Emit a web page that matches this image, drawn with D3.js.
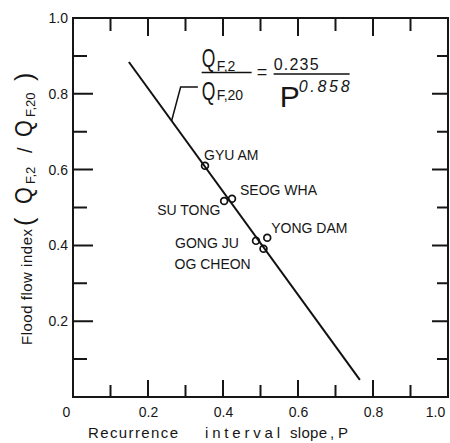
<!DOCTYPE html>
<html>
<head>
<meta charset="utf-8">
<title>Flood flow index vs recurrence interval slope</title>
<script src="https://cdn.jsdelivr.net/npm/d3@7"></script>
<style>
    body{ margin:0; background:#fff; }
    svg{ display:block; }
    text{ font-family:"Liberation Sans", Arial, sans-serif; fill:#161616; }
    .tick text{ font-size:14px; }
    .frame{ fill:none; stroke:#161616; stroke-width:2px; }
    .fit{ fill:none; stroke:#111; stroke-width:2px; }
    .pt{ fill:none; stroke:#111; stroke-width:1.7px; }
    .stn{ font-size:14px; }
</style>
</head>
<body>
<svg id="chart" width="450" height="443"></svg>

<script>
    // stations
    const stations   = ["GYU AM", "SU TONG", "SEOG WHA", "GONG JU", "YONG DAM", "OG CHEON"];
    const slopeP     = [0.352, 0.403, 0.424, 0.488, 0.518, 0.508];
    const floodIndex = [0.610, 0.517, 0.523, 0.412, 0.420, 0.391];

    // straight fitted line, end points
    const fitP     = [0.149, 0.765];
    const fitIndex = [0.884, 0.045];

    const majorTicks  = [0, 0.2, 0.4, 0.6, 0.8, 1.0];
    const minorTicks  = [0.1, 0.3, 0.5, 0.7, 0.9];
    const xTickLabels = ["0", "0.2", "0.4", "0.6", "0.8", "1.0"];
    const yTickLabels = ["", "0.2", "0.4", "0.6", "0.8", "1.0"];

    const W = 450, H = 443;
    const margin = {top: 18, right: 2, bottom: 46, left: 73};
    const svg = d3.select("#chart");

    const x = d3.scaleLinear().domain([0, 1]).range([margin.left, W - margin.right]);
    const y = d3.scaleLinear().domain([0, 1]).range([H - margin.bottom, margin.top]);

    // ***************************************
    //        axis labels
    // ***************************************
    const xAx = svg.append("g").attr("transform", `translate(0,${y(0)})`)
        .call(d3.axisBottom(x).tickValues(majorTicks).tickSize(0).tickPadding(10)
            .tickFormat((d, i) => xTickLabels[i]));
    xAx.select(".domain").remove();
    // corner labels sit a bit inside
    xAx.selectAll(".tick text").attr("dx", (d) => d === 0 ? -7 : d === 1 ? -13 : 0);

    const yAx = svg.append("g").attr("transform", `translate(${x(0)},0)`)
        .call(d3.axisLeft(y).tickValues(majorTicks).tickSize(0).tickPadding(5)
            .tickFormat((d, i) => yTickLabels[i]));
    yAx.select(".domain").remove();

    svg.append("rect").attr("class", "frame")
        .attr("x", x(0)).attr("y", y(1))
        .attr("width", x(1) - x(0)).attr("height", y(0) - y(1));

    // ***************************************
    //        fitted line + stations
    // ***************************************
    const fitData = fitP.map((p, i) => ({p: p, v: fitIndex[i]}));
    svg.append("path").datum(fitData).attr("class", "fit")
        .attr("d", d3.line().x(d => x(d.p)).y(d => y(d.v)));

    const pts = stations.map((s, i) => ({name: s, p: slopeP[i], v: floodIndex[i]}));
    // label offsets from the point (px)
    const labelOff = {
        "GYU AM":   [-1, -6],
        "SU TONG":  [-67, 14],
        "SEOG WHA": [8, -4],
        "GONG JU":  [-81, 7],
        "YONG DAM": [4, -5],
        "OG CHEON": [-89, 20]
    };
    svg.selectAll("circle.pt").data(pts).join("circle").attr("class", "pt")
        .attr("cx", d => x(d.p)).attr("cy", d => y(d.v)).attr("r", 3.4);
    svg.selectAll("text.stn").data(pts).join("text").attr("class", "stn")
        .attr("x", d => x(d.p) + labelOff[d.name][0])
        .attr("y", d => y(d.v) + labelOff[d.name][1])
        .text(d => d.name);

    // ***************************************
    //        equation with leader
    // ***************************************
    const fitAt = d3.scaleLinear().domain(fitP).range(fitIndex);
    const leader = [[0.263, fitAt(0.263)], [0.287, 0.818], [0.333, 0.818]];
    svg.append("path").attr("fill", "none").attr("stroke", "#111").attr("stroke-width", 1.5)
        .attr("d", d3.line().x(d => x(d[0])).y(d => y(d[1]))(leader));

    const eq = svg.append("g").attr("transform", `translate(${x(0.343)},${y(0.856)})`);
    // squeezed Q like the drawn one
    const bigQ = (sel, px, py, size, sx) => sel.append("text")
        .attr("transform", `translate(${px},${py}) scale(${sx},1)`)
        .style("font-size", size + "px").text("Q");

    eq.append("line").attr("x1", 0).attr("x2", 50).attr("y1", 0).attr("y2", 0)
        .attr("stroke", "#111").attr("stroke-width", 1.5);
    bigQ(eq, 0, -6, 25, 0.7);
    eq.append("text").attr("x", 15).attr("y", -2).style("font-size", "14px").text("F,2");
    bigQ(eq, 0, 27, 25, 0.7);
    eq.append("text").attr("x", 15).attr("y", 27).style("font-size", "14px").text("F,20");
    eq.append("text").attr("x", 55).attr("y", 5).style("font-size", "18px").text("=");
    eq.append("text").attr("x", 72).attr("y", -3).style("font-size", "16px")
        .attr("textLength", 45).text("0.235");
    eq.append("line").attr("x1", 72).attr("x2", 148).attr("y1", 1.5).attr("y2", 1.5)
        .attr("stroke", "#111").attr("stroke-width", 1.5);
    eq.append("text").attr("x", 78).attr("y", 34).style("font-size", "30px").text("P");
    eq.append("text").attr("x", 97).attr("y", 19).style("font-size", "16px")
        .style("font-style", "italic").attr("textLength", 51).text("0.858");

    // ***************************************
    //        axis titles
    // ***************************************
    const xt = svg.append("g").attr("transform", `translate(0,438)`).style("font-size", "15px");
    [["Recurrence", 88, 90], ["interval", 205, 75], ["slope", 290, 37], [",", 330, 4], ["P", 338, 9]]
        .forEach(([t, px, w]) => {
            xt.append("text").attr("x", px).attr("y", 0).attr("textLength", w).text(t);
        });

    const yt = svg.append("g").attr("transform", "translate(32,0) rotate(-90)");
    yt.append("text").attr("x", -345).attr("y", 0).style("font-size", "15px")
        .attr("textLength", 116).text("Flood  flow  index");
    yt.append("text").attr("x", -226).attr("y", 1).style("font-size", "25px").text("(");
    bigQ(yt, -204, 0, 24, 0.9);
    yt.append("text").attr("x", -184).attr("y", 3).style("font-size", "13px").text("F,2");
    yt.append("text").attr("x", -153).attr("y", 0).style("font-size", "20px").text("/");
    bigQ(yt, -137, 0, 24, 0.9);
    yt.append("text").attr("x", -117).attr("y", 3).style("font-size", "13px").text("F,20");
    yt.append("text").attr("x", -81).attr("y", 1).style("font-size", "25px").text(")");

    // ***************************************
    //        tick marks, all pointing inward (drawn last, one path per set)
    // ***************************************
    const tickPath = d3.path();
    const addX = (values, yPos, len) => values.forEach(v => {
        tickPath.moveTo(x(v), yPos); tickPath.lineTo(x(v), yPos + len);
    });
    const addY = (values, xPos, len) => values.forEach(v => {
        tickPath.moveTo(xPos, y(v)); tickPath.lineTo(xPos + len, y(v));
    });
    addX(majorTicks, y(0), -17);
    addX(minorTicks, y(0), -12);
    addX(majorTicks, y(1), 18);
    addX(minorTicks, y(1), 13);
    addY(majorTicks, x(0), 20);
    addY(minorTicks, x(0), 14);
    addY(majorTicks, x(1), -16);
    addY(minorTicks, x(1), -11);
    svg.append("path").attr("d", tickPath.toString())
        .attr("fill", "none").attr("stroke", "#161616").attr("stroke-width", 2);
</script>
</body>
</html>
